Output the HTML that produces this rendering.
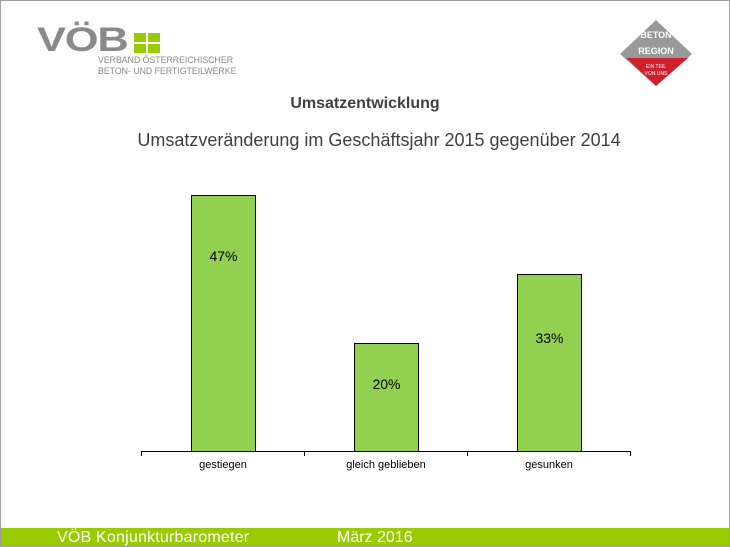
<!DOCTYPE html>
<html><head><meta charset="utf-8"><style>
body{margin:0;width:730px;height:547px;overflow:hidden;background:#fff;font-family:"Liberation Sans",sans-serif;position:relative}
.frame{position:absolute;left:0;top:0;width:728px;height:545px;border:1px solid #a0a0a0}
.t{position:absolute;white-space:nowrap}
.bar{position:absolute;background:#92d050;border:1px solid #000;box-sizing:border-box}
</style></head><body>
<div class="frame"></div>
<!-- VOB logo -->
<div class="t" style="left:37px;top:21px;font-size:34px;font-weight:bold;color:#8a8a8a;letter-spacing:-1px;transform:scaleX(1.28);transform-origin:left">VÖB</div>
<div style="position:absolute;left:134px;top:33px;width:26px;height:20px;background:#99cc00"></div>
<div style="position:absolute;left:146px;top:33px;width:2px;height:20px;background:#fff"></div>
<div style="position:absolute;left:134px;top:42px;width:26px;height:2px;background:#fff"></div>
<div class="t" style="left:98px;top:55px;font-size:9.5px;color:#888;line-height:11px;transform:scaleX(0.92);transform-origin:left">VERBAND ÖSTERREICHISCHER<br>BETON- UND FERTIGTEILWERKE</div>
<!-- right logo -->
<svg style="position:absolute;left:618px;top:18px" width="80" height="70">
<polygon points="38,2 74,36 38,68 2,36" fill="#999"/>
<polygon points="8,40 70,40 38,68" fill="#d0202e"/>
<text x="38" y="20" font-size="9" font-weight="bold" fill="#fff" text-anchor="middle" font-family="Liberation Sans">BETON</text>
<text x="38" y="36" font-size="9" font-weight="bold" fill="#fff" text-anchor="middle" font-family="Liberation Sans">REGION</text>
<text x="38" y="50" font-size="5" fill="#fff" text-anchor="middle" font-family="Liberation Sans">EIN TEIL</text>
<text x="38" y="57" font-size="5" fill="#fff" text-anchor="middle" font-family="Liberation Sans">VON UNS</text>
</svg>
<div class="t" style="left:0;width:730px;text-align:center;top:95px;font-size:16px;font-weight:bold;color:#404040">Umsatzentwicklung</div>
<div class="t" style="left:14px;width:730px;text-align:center;top:130px;font-size:18px;color:#404040">Umsatzveränderung im Geschäftsjahr 2015 gegenüber 2014</div>
<!-- chart -->
<div class="bar" style="left:191px;top:195px;width:65px;height:257px"></div>
<div class="bar" style="left:354px;top:343px;width:65px;height:109px"></div>
<div class="bar" style="left:517px;top:274px;width:65px;height:178px"></div>
<div class="t" style="left:191px;width:65px;text-align:center;top:248px;font-size:14px">47%</div>
<div class="t" style="left:354px;width:65px;text-align:center;top:376px;font-size:14px">20%</div>
<div class="t" style="left:517px;width:65px;text-align:center;top:330px;font-size:14px">33%</div>
<div style="position:absolute;left:141px;top:451px;width:490px;height:1px;background:#000"></div>
<div style="position:absolute;left:141px;top:451px;width:1px;height:5px;background:#000"></div>
<div style="position:absolute;left:304px;top:451px;width:1px;height:5px;background:#000"></div>
<div style="position:absolute;left:467px;top:451px;width:1px;height:5px;background:#000"></div>
<div style="position:absolute;left:630px;top:451px;width:1px;height:5px;background:#000"></div>
<div class="t" style="left:141px;width:164px;text-align:center;top:459px;font-size:11px">gestiegen</div>
<div class="t" style="left:304px;width:164px;text-align:center;top:459px;font-size:11px">gleich geblieben</div>
<div class="t" style="left:467px;width:164px;text-align:center;top:459px;font-size:11px">gesunken</div>
<!-- footer -->
<div style="position:absolute;left:1px;top:528px;width:728px;height:18px;background:#99cc00"></div>
<div class="t" style="left:57px;top:528px;font-size:16px;color:#fff;line-height:19px;letter-spacing:0.2px">VÖB Konjunkturbarometer</div>
<div class="t" style="left:337px;top:528px;font-size:16px;color:#fff;line-height:19px">März 2016</div>
</body></html>
